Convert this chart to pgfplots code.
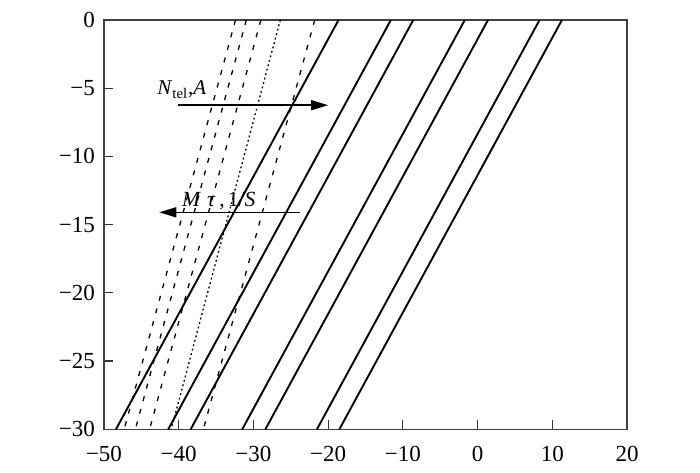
\documentclass[border=0pt]{standalone}
\usepackage{fontspec}
\setmainfont{Liberation Serif}
\usepackage{pgfplots}
\pgfplotsset{compat=1.18}
\usetikzlibrary{arrows.meta}
\begin{document}
\begin{tikzpicture}
\path[use as bounding box] (0,0) rectangle (350pt,236pt);
\begin{axis}[at={(52pt,21.35pt)}, anchor=south west, scale only axis,
  width=261.5pt, height=204.7pt,
  xmin=-50, xmax=20, ymin=-30, ymax=0,
  xtick={-50,-40,...,20},
  xticklabels={\textrm{−50},\textrm{−40},\textrm{−30},\textrm{−20},\textrm{−10},\textrm{0},\textrm{10},\textrm{20}},
  ytick={-30,-25,...,0},
  yticklabels={\textrm{−30},\textrm{−25},\textrm{−20},\textrm{−15},\textrm{−10},\textrm{−5},\textrm{0}},
  tick align=inside, xtick pos=lower, ytick pos=lower,
  major tick length=4.5pt,
  tick style={black!80, line width=0.6pt},
  axis line style={black!75, line width=0.8pt},
  tick label style={font=\fontsize{11.5}{13}\selectfont},
  xticklabel style={yshift=-5pt},
  yticklabel style={xshift=-1pt},
  clip=true]
% solid lines
\addplot[black, line width=0.95pt] coordinates {(-18.6,0) (-48.4,-30)};
\addplot[black, line width=0.95pt] coordinates {(-11.6,0) (-41.4,-30)};
\addplot[black, line width=0.95pt] coordinates {(-8.6,0) (-38.4,-30)};
\addplot[black, line width=0.95pt] coordinates {(-1.7,0) (-31.5,-30)};
\addplot[black, line width=0.95pt] coordinates {(1.4,0) (-28.4,-30)};
\addplot[black, line width=0.95pt] coordinates {(8.3,0) (-21.5,-30)};
\addplot[black, line width=0.95pt] coordinates {(11.3,0) (-18.5,-30)};
% dashed lines
\addplot[black, line width=0.65pt, dash pattern=on 2.5pt off 4pt] coordinates {(-32.4,0) (-47.3,-30)};
\addplot[black, line width=0.65pt, dash pattern=on 2.5pt off 4pt] coordinates {(-30.95,0) (-45.8,-30)};
\addplot[black, line width=0.65pt, dash pattern=on 2.5pt off 4pt] coordinates {(-29.0,0) (-43.9,-30)};
\addplot[black, line width=0.65pt, dash pattern=on 0.9pt off 1.4pt] coordinates {(-26.4,0) (-41.0,-30)};
\addplot[black, line width=0.65pt, dash pattern=on 2.5pt off 4pt] coordinates {(-21.8,0) (-36.7,-30)};
% arrows
\addplot[black, line width=0.8pt, -{Triangle[length=8.5pt,width=5pt]}] coordinates {(-40.1,-6.25) (-20.0,-6.25)};
\addplot[black, line width=0.8pt, -{Triangle[length=8.5pt,width=5pt]}] coordinates {(-23.8,-14.1) (-42.6,-14.1)};
\node[anchor=base west, inner sep=0pt, font=\fontsize{10.5}{12}\selectfont] at (axis cs:-42.9,-5.5) {\textit{N}\textsubscript{tel},\textit{A}};
\node[anchor=base west, inner sep=0pt, font=\fontsize{10.8}{12}\selectfont] at (axis cs:-39.6,-13.69) {\textit{M}\hspace{3pt}\textit{τ}\hspace{2pt},\hspace{1.5pt}1/\textit{S}};
\end{axis}
\end{tikzpicture}
\end{document}
